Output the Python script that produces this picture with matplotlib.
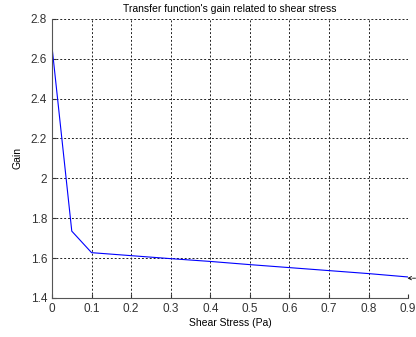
import matplotlib
matplotlib.use("Agg")
from matplotlib import pyplot as plt
from matplotlib.patches import FancyArrowPatch

# shear stress (Pa) and transfer function gain
shear = [0.0, 0.05, 0.1, 0.2, 0.3, 0.4, 0.5, 0.6, 0.7, 0.8, 0.9]
gain = [2.66, 1.735, 1.627, 1.612, 1.597, 1.583, 1.567, 1.552, 1.537, 1.522, 1.505]

xticks = [0, 0.1, 0.2, 0.3, 0.4, 0.5, 0.6, 0.7, 0.8, 0.9]
xlabels = ["0", "0.1", "0.2", "0.3", "0.4", "0.5", "0.6", "0.7", "0.8", "0.9"]
yticks = [1.4, 1.6, 1.8, 2.0, 2.2, 2.4, 2.6, 2.8]
ylabels = ["1.4", "1.6", "1.8", "2", "2.2", "2.4", "2.6", "2.8"]

plt.rcParams['font.family'] = ['Liberation Sans', 'DejaVu Sans']

fig = plt.figure(figsize=(4.16, 3.37), dpi=100)
ax = fig.add_axes([0.125, 0.116, 0.856, 0.828])

ax.plot(shear, gain, color="blue", linewidth=0.8)

ax.set_xlim(0, 0.9)
ax.set_ylim(1.4, 2.8)
ax.set_xticks(xticks)
ax.set_xticklabels(xlabels)
ax.set_yticks(yticks)
ax.set_yticklabels(ylabels)
ax.tick_params(labelsize=8.5, length=3, direction="in", colors="#333333")

# matlab style grid, box off
ax.grid(True, linestyle=(0, (2, 2)), color="#222222", linewidth=0.7)
ax.spines["top"].set_visible(False)
ax.spines["right"].set_visible(False)
ax.spines["left"].set_color("#555555")
ax.spines["bottom"].set_color("#555555")

ax.set_xlabel("Shear Stress (Pa)", fontsize=7.5, labelpad=2)
ax.set_ylabel("Gain", fontsize=7.5, labelpad=6)
ax.set_title("Transfer function's gain related to shear stress", fontsize=7.5, pad=5)

# little arrow pointing at the last point
arrow = FancyArrowPatch((0.93, gain[-1] - 0.006), (shear[-1] - 0.002, gain[-1] - 0.006),
                        arrowstyle="->", mutation_scale=6, linestyle="--",
                        color="black", lw=0.6, shrinkA=0, shrinkB=0, clip_on=False)
ax.add_patch(arrow)

fig.savefig("out.png", dpi=100)
